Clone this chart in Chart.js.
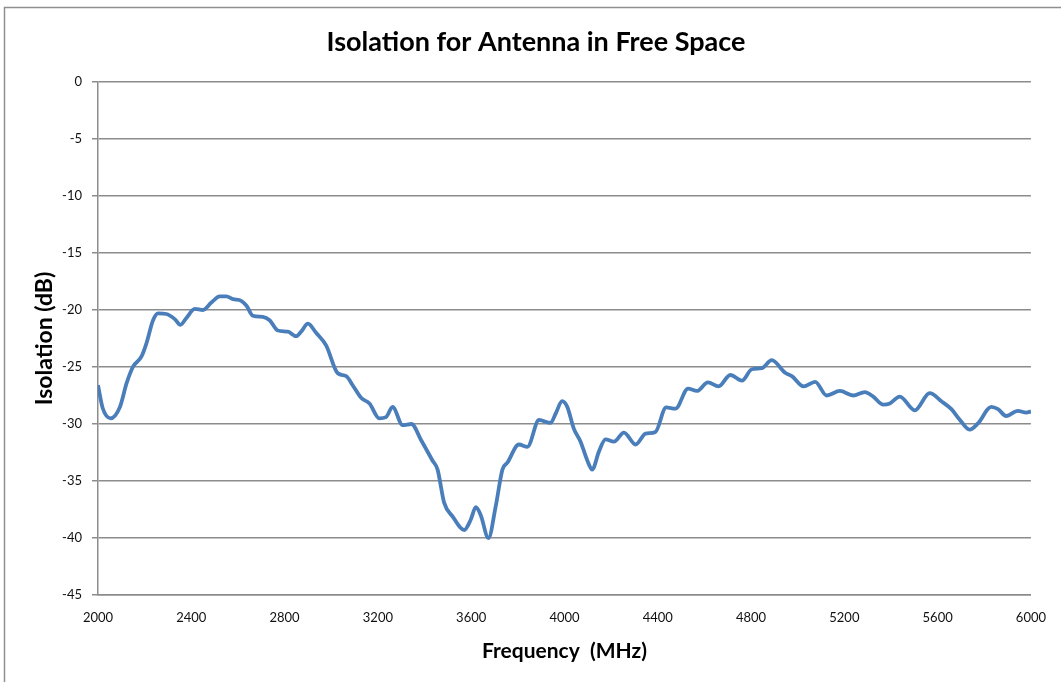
<!DOCTYPE html>
<html>
<head>
<meta charset="utf-8">
<script src="https://cdn.jsdelivr.net/npm/chart.js@4/dist/chart.umd.min.js"></script>
<style>
  html, body { margin: 0; padding: 0; background: #fff; }
  #wrap { width: 1061px; height: 682px; position: relative; }
</style>
</head>
<body>
<div id="wrap"><canvas id="c"></canvas></div>
<script>
const chartTitle = "Isolation for Antenna in Free Space";
const xTitle = "Frequency  (MHz)";
const yTitle = "Isolation (dB)";

const frequencies = [2000,2020,2054,2094,2123,2151,2186,2208,2236,2258,2293,2329,2353,2379,2415,2450,2486,2522,2550,2579,2614,2636,2664,2707,2736,2771,2814,2850,2871,2900,2935,2978,3028,3064,3092,3128,3164,3206,3235,3263,3306,3344,3385,3434,3456,3484,3520,3570,3598,3620,3641,3674,3705,3734,3755,3805,3841,3891,3941,3962,3990,4012,4040,4069,4098,4119,4148,4176,4212,4255,4305,4348,4390,4436,4476,4530,4568,4615,4661,4711,4761,4803,4846,4889,4946,4975,5025,5075,5124,5181,5238,5288,5324,5367,5395,5438,5502,5566,5616,5659,5694,5737,5773,5830,5859,5894,5944,5980,6000];
const isolation = [-26.6,-28.6,-29.5,-28.5,-26.4,-24.95,-24.1,-22.9,-20.9,-20.3,-20.35,-20.8,-21.3,-20.7,-19.9,-20.0,-19.35,-18.8,-18.8,-19.05,-19.2,-19.6,-20.5,-20.6,-20.9,-21.8,-21.9,-22.3,-21.9,-21.2,-22.0,-23.1,-25.55,-25.8,-26.6,-27.7,-28.2,-29.5,-29.4,-28.5,-30.1,-30.0,-31.4,-33.2,-34.0,-36.9,-38.1,-39.3,-38.4,-37.3,-38.0,-40.0,-37.25,-34.0,-33.4,-31.8,-32.0,-29.65,-29.9,-29.1,-28.0,-28.5,-30.4,-31.55,-33.2,-34.0,-32.4,-31.35,-31.55,-30.75,-31.8,-30.85,-30.7,-28.55,-28.65,-26.9,-27.1,-26.35,-26.7,-25.7,-26.2,-25.2,-25.1,-24.4,-25.5,-25.8,-26.7,-26.3,-27.5,-27.1,-27.5,-27.2,-27.6,-28.3,-28.2,-27.6,-28.8,-27.3,-28.0,-28.7,-29.6,-30.5,-29.95,-28.5,-28.7,-29.3,-28.85,-29.0,-28.9];

const xMin = 2000, xMax = 6000, xStep = 400;
const yMin = -45, yMax = 0, yStep = 5;

const points = frequencies.map((f, i) => ({ x: f, y: isolation[i] }));

const frame = {
  id: 'frame',
  beforeDraw(chart) {
    const ctx = chart.ctx;
    ctx.save();
    ctx.fillStyle = '#fff';
    ctx.fillRect(0, 0, chart.width, chart.height);
    ctx.strokeStyle = '#8f8f8f';
    ctx.lineWidth = 1.5;
    ctx.beginPath();
    ctx.moveTo(4.5, chart.height);
    ctx.lineTo(4.5, 7.5);
    ctx.lineTo(chart.width, 7.5);
    ctx.stroke();
    ctx.fillStyle = '#000';
    ctx.font = 'bold 27px Lato';
    ctx.textAlign = 'center';
    ctx.textBaseline = 'middle';
    ctx.fillText(chartTitle, 536, 42);
    ctx.restore();
  }
};

new Chart(document.getElementById('c'), {
  type: 'line',
  data: {
    datasets: [{
      data: points,
      borderColor: '#4a7ebb',
      borderWidth: 3.8,
      pointRadius: 0,
      fill: false,
      cubicInterpolationMode: 'monotone'
    }]
  },
  options: {
    responsive: true,
    maintainAspectRatio: false,
    animation: false,
    events: [],
    layout: { padding: { left: 0, right: 22, top: 82, bottom: 0 } },
    plugins: {
      legend: { display: false },
      tooltip: { enabled: false },
      title: { display: false }
    },
    scales: {
      x: {
        type: 'linear',
        min: xMin, max: xMax,
        afterFit(scale) { scale.height = 87; },
        ticks: { stepSize: xStep, color: '#111', font: { family: 'Lato', size: 13 }, padding: 15, maxRotation: 0,
                 callback: (v) => String(v) },
        grid: { display: false, drawTicks: false },
        border: { display: true, color: '#8c8c8c', width: 1.5 },
        title: { display: true, text: xTitle, color: '#000', font: { family: 'Lato', size: 21, weight: 'bold', lineHeight: 1.2 }, padding: { top: 0, bottom: 18 } }
      },
      y: {
        min: yMin, max: yMax,
        afterFit(scale) { scale.width = 98; },
        ticks: { stepSize: yStep, color: '#111', font: { family: 'Lato', size: 13 }, padding: 10 },
        grid: { color: '#8c8c8c', lineWidth: 1.5, tickLength: 6, drawTicks: true },
        border: { display: true, color: '#8c8c8c', width: 1.5 },
        title: { display: true, text: yTitle, color: '#000', font: { family: 'Lato', size: 23, weight: 'bold', lineHeight: 1.2 }, padding: { top: 31, bottom: 0 } }
      }
    }
  },
  plugins: [frame]
});
</script>
</body>
</html>
